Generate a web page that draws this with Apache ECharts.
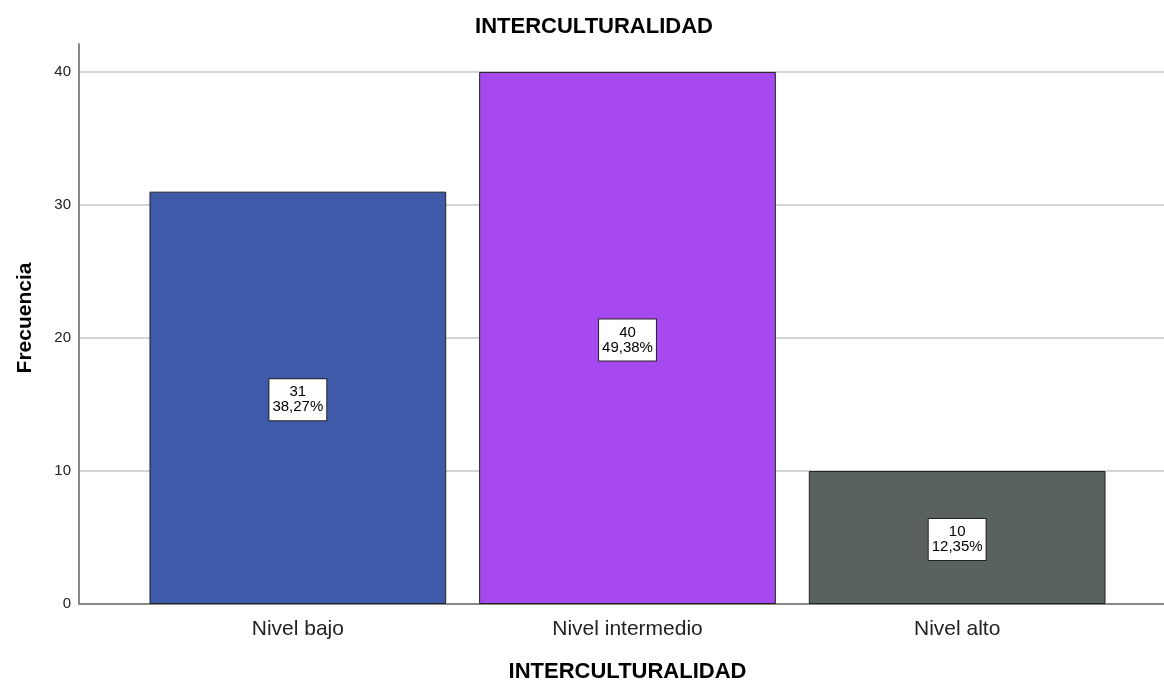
<!DOCTYPE html>
<html><head><meta charset="utf-8">
<script src="https://cdn.jsdelivr.net/npm/echarts@6/dist/echarts.min.js"></script>
<style>html,body{margin:0;padding:0;background:#fff}#c{width:1164px;height:683px}</style>
</head><body><div id="c"></div>
<script>
var categories = ['Nivel bajo', 'Nivel intermedio', 'Nivel alto'];
var counts = [31, 40, 10];
var percents = ['38,27%', '49,38%', '12,35%'];
var colors = ['#3e5aa8', '#a64af0', '#5a625d'];
var yTicks = [0, 10, 20, 30, 40];

var chart = echarts.init(document.getElementById('c'));
var F = '"Liberation Sans", Arial, sans-serif';
var yMax = 42.1;
chart.setOption({
  animation: false,
  textStyle: { fontFamily: F },
  title: {
    text: 'INTERCULTURALIDAD', left: 589, top: 11, textAlign: 'center',
    textStyle: { fontFamily: F, fontSize: 22, fontWeight: 'bold', color: '#000' }
  },
  grid: [
    { left: 79, right: 0, top: 44, bottom: 79, outerBoundsMode: 'none' },
    { left: 133, width: 989, top: 44, bottom: 79, outerBoundsMode: 'none' }
  ],
  xAxis: [
    { gridIndex: 0, type: 'value', min: 0, max: 1,
      axisLine: { show: true, lineStyle: { color: '#888', width: 2 } },
      axisTick: { show: false }, axisLabel: { show: false }, splitLine: { show: false } },
    { gridIndex: 1, type: 'category', data: categories,
      axisLine: { show: false }, axisTick: { show: false },
      axisLabel: { fontFamily: F, fontSize: 21, color: '#222', margin: 15 },
      name: 'INTERCULTURALIDAD', nameLocation: 'middle', nameGap: 57,
      nameTextStyle: { fontFamily: F, fontSize: 22, fontWeight: 'bold', color: '#000' } }
  ],
  yAxis: [
    { gridIndex: 0, type: 'value', min: 0, max: yMax, interval: 10,
      axisLine: { show: true, lineStyle: { color: '#888', width: 2 } },
      axisTick: { show: false },
      axisLabel: { fontFamily: F, fontSize: 15, color: '#222', margin: 8, showMaxLabel: false,
        formatter: function (v) { return yTicks.indexOf(v) >= 0 ? String(v) : ''; } },
      splitLine: { show: true, showMinLine: false, showMaxLine: false, lineStyle: { color: '#d4d4d4', width: 2 } },
      name: 'Frecuencia', nameLocation: 'middle', nameGap: 43,
      nameTextStyle: { fontFamily: F, fontSize: 21, fontWeight: 'bold', color: '#000', padding: [0, 0, 0, 12] } },
    { gridIndex: 1, type: 'value', min: 0, max: yMax, show: false }
  ],
  series: [{
    type: 'bar', xAxisIndex: 1, yAxisIndex: 1,
    barCategoryGap: '10%',
    data: counts.map(function (v, i) {
      return { value: v, itemStyle: { color: colors[i] } };
    }),
    itemStyle: { borderColor: '#222', borderWidth: 1 },
    label: {
      show: true, position: 'inside', offset: [0, 2],
      formatter: function (p) { return p.value + '\n' + percents[p.dataIndex]; },
      fontFamily: F, fontSize: 15, lineHeight: 15, color: '#000',
      backgroundColor: '#fff', borderColor: '#222', borderWidth: 1, padding: [6, 3, 5, 3]
    }
  }]
});
</script></body></html>
